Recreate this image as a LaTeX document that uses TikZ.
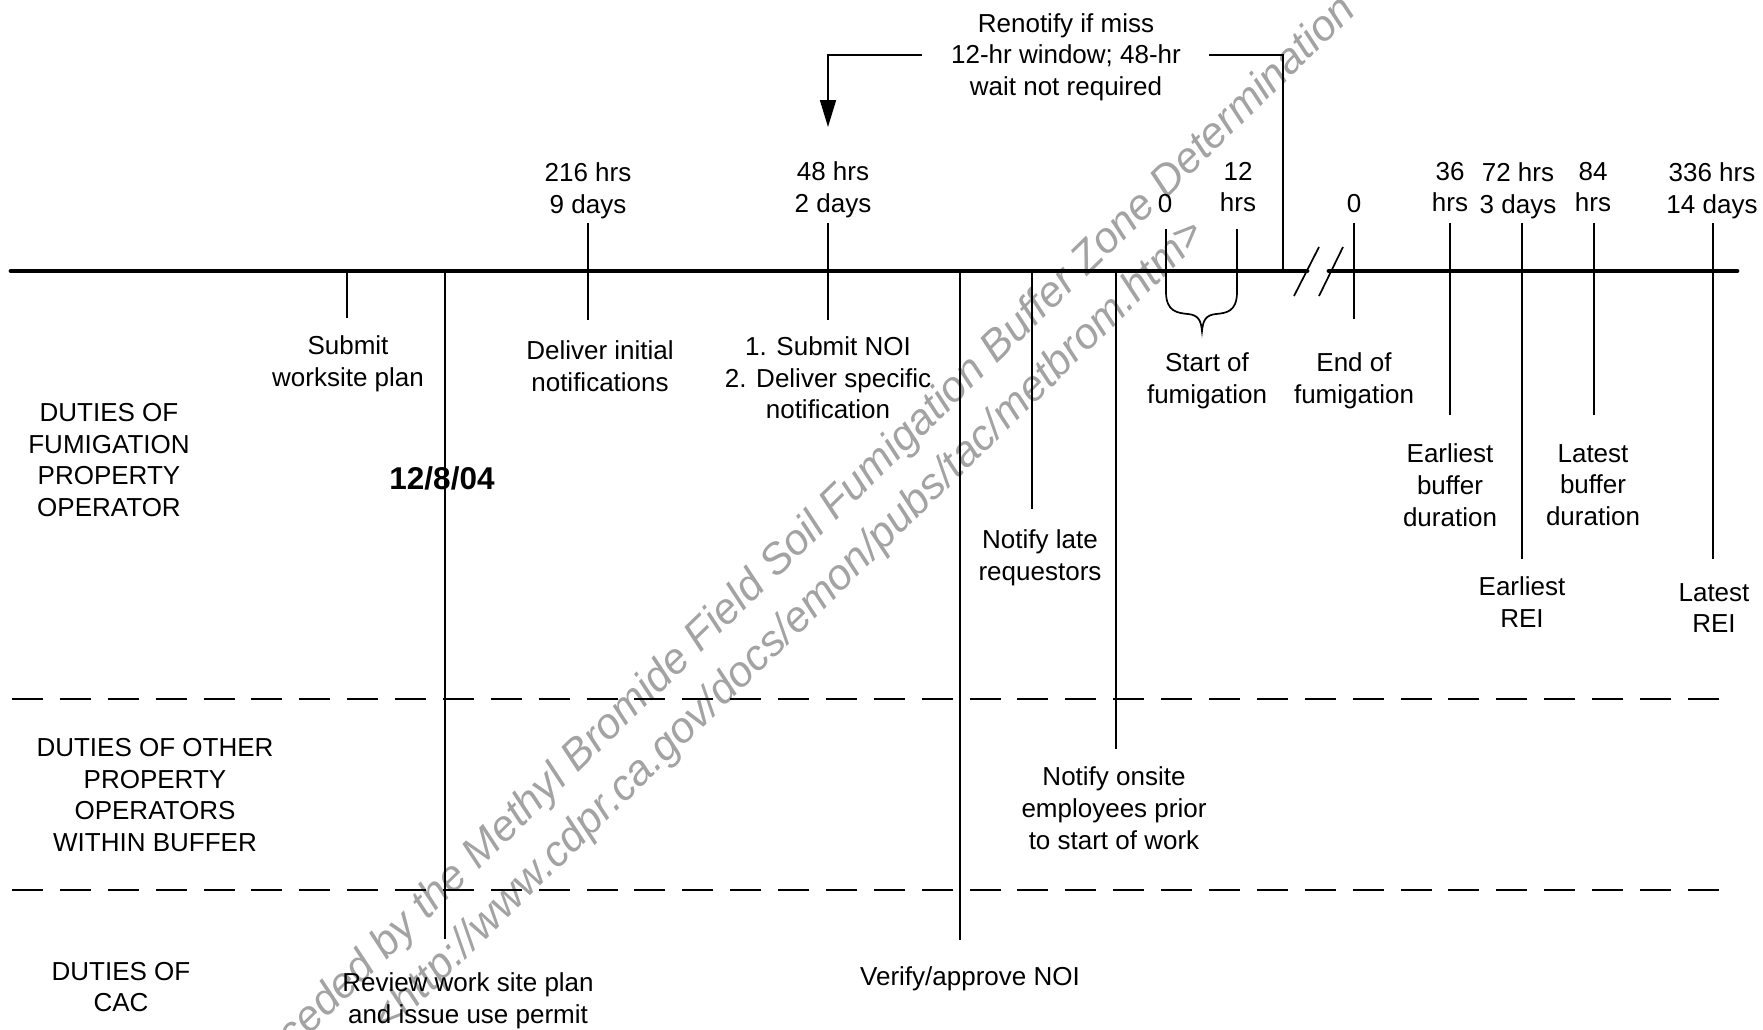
\documentclass[tikz,border=0pt]{standalone}
\usepackage{fontspec}
\setmainfont{Liberation Sans}
\usetikzlibrary{arrows.meta}
\begin{document}
\begin{tikzpicture}[x=0.5pt,y=-0.5pt,
  lbl/.style={align=center,inner sep=0pt,font=\fontsize{13pt}{15.85pt}\selectfont},
  tick/.style={line width=0.85pt},
  axis/.style={line width=2.4pt,line cap=round},
  sep/.style={line width=0.85pt,dash pattern=on 15.5pt off 8.44pt},
  wm/.style={rotate=44.3,inner sep=0pt,text=black!36,font=\fontsize{21.5pt}{26pt}\selectfont\itshape}]
\useasboundingbox (0,0) rectangle (1763,1029);
% watermark
\begin{scope}
\clip (0,0) rectangle (1763,1029);
\node[wm,anchor=base east] (wm1) at (1358,12) {Superceded by the Methyl Bromide Field Soil Fumigation Buffer Zone Determination};
\node[wm,anchor=base east] (wm2) at (1207,236) {<http://www.cdpr.ca.gov/docs/emon/pubs/tac/metbrom.htm>};
\end{scope}
% timeline
\coordinate (a0) at (11,271);
\coordinate (a1) at (1307,271);
\coordinate (a2) at (1329,271);
\coordinate (a3) at (1737,271);
\draw[axis] (a0) -- (a1);
\draw[axis] (a2) -- (a3);
\draw[tick] (1294,296) -- (1319,247);
\draw[tick] (1319,296) -- (1343,247);
% separators
\draw[sep] (12,699) -- (1719,699);
\draw[sep] (12,890) -- (1719,890);
% row labels
\node[lbl] (row1) at (109,460) {DUTIES OF\\FUMIGATION\\PROPERTY\\OPERATOR};
\node[lbl] (row2) at (155,795) {DUTIES OF OTHER\\PROPERTY\\OPERATORS\\WITHIN BUFFER};
\node[lbl] (row3) at (121,987) {DUTIES OF\\CAC};
% top labels
\node[lbl] (t216) at (588,190.5) {216 hrs\\9 days};
\node[lbl] (t48) at (833,190) {48 hrs\\2 days};
\node[lbl] (t0a) at (1165,204) {0};
\node[lbl] (t12) at (1238,187) {12\\hrs};
\node[lbl] (t0b) at (1354,204) {0};
\node[lbl] (t36) at (1450,187) {36\\hrs};
\node[lbl] (t72) at (1518,190.5) {72 hrs\\3 days};
\node[lbl] (t84) at (1593,187) {84\\hrs};
\node[lbl] (t336) at (1712,190.5) {336 hrs\\14 days};
% bottom labels
\node[lbl] (submit) at (348,364) {Submit\\worksite plan};
\node[lbl] (deliver) at (600,366) {Deliver initial\\notifications};
\node[lbl] (noi) at (828,378) {1. Submit NOI\\2. Deliver specific\\notification};
\node[lbl] (start) at (1207,381) {Start of\\fumigation};
\node[lbl] (end) at (1354,381) {End of\\fumigation};
\node[lbl] (ebd) at (1450,485) {Earliest\\buffer\\duration};
\node[lbl] (lbd) at (1593,485) {Latest\\buffer\\duration};
\node[lbl] (erei) at (1522,602) {Earliest\\REI};
\node[lbl] (lrei) at (1714,608) {Latest\\REI};
\node[lbl,font=\fontsize{15.75pt}{18pt}\selectfont\bfseries] (date) at (442,478) {12/8/04};
\node[lbl] (late) at (1040,558) {Notify late\\requestors};
\node[lbl] (onsite) at (1114,808) {Notify onsite\\employees prior\\to start of work};
\node[lbl] (verify) at (970,979) {Verify/approve NOI};
\node[lbl] (review) at (468,1001) {Review work site plan\\and issue use permit};
\node[lbl] (renot) at (1066,57) {Renotify if miss\\12-hr window; 48-hr\\wait not required};
% ticks
\draw[tick] (347,271) -- (347,318);
\draw[tick] (445,271) -- (445,939);
\draw[tick] (588,223) -- (588,320);
\draw[tick] (828,223) -- (828,320);
\draw[tick] (960,271) -- (960,940);
\draw[tick] (1032,271) -- (1032,509);
\draw[tick] (1116,271) -- (1116,749);
\draw[tick] (1354,223) -- (1354,319);
\draw[tick] (1450,223) -- (1450,415);
\draw[tick] (1522,223) -- (1522,559);
\draw[tick] (1594,223) -- (1594,415);
\draw[tick] (1713,223) -- (1713,559);
% brace
\draw[tick] (1166,229) -- (1166,292) .. controls (1166,312) and (1178,313) .. (1188,314)
  .. controls (1198,315) and (1201,320) .. (1202,331)
  .. controls (1203,320) and (1206,315) .. (1216,314)
  .. controls (1226,313) and (1237,312) .. (1237,292) -- (1237,229);
% renotify connector
\coordinate (rtop) at (1283,55);
\coordinate (ltop) at (828,55);
\coordinate (atip) at (828,127);
\draw[tick] (1283,271) -- (rtop) -- (1209,55);
\draw[tick,-{Triangle[length=13.5pt,width=8pt]}] (922,55) -- (ltop) -- (atip);
\end{tikzpicture}
\end{document}
